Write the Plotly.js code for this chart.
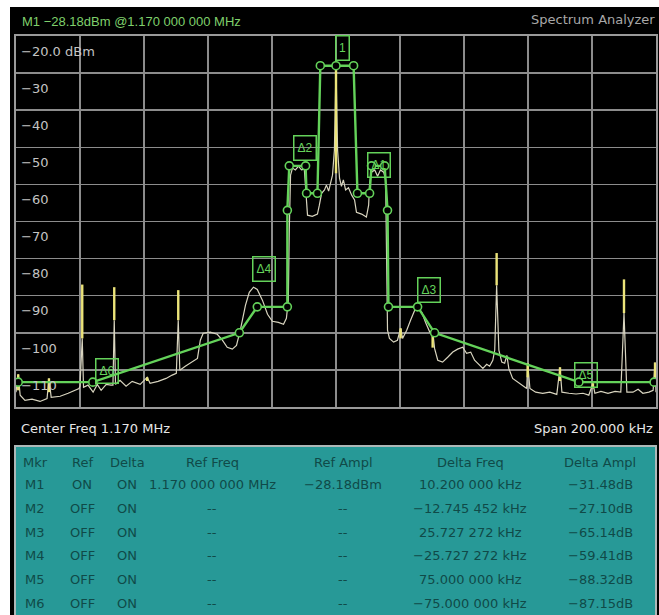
<!DOCTYPE html>
<html>
<head>
<meta charset="utf-8">
<script src="https://cdn.plot.ly/plotly-3.0.1.min.js"></script>
<style>html,body{margin:0;padding:0;background:#fff;}#chart{width:659px;height:615px;}</style>
</head>
<body>
<div id="chart"></div>
<script>
// ---- Data (frequency offset from 1.170 MHz centre, kHz; level dBm) ----
var specFreq = [-100,-99.3,-98.7,-97.2,-95.0,-92.5,-90.3,-89.7,-89.0,-86.2,-83.7,-81.5,-80.3,-80.0,-79.3,-78.9,-77.5,-75.9,-74.6,-73.4,-71.8,-70.3,-69.7,-69.3,-68.9,-67.5,-65.6,-63.7,-61.2,-59.0,-58.1,-55.6,-53.1,-51.2,-49.9,-49.3,-48.8,-47.1,-44.9,-43.3,-42.4,-41.5,-39.3,-37.1,-35.5,-34.0,-32.4,-31.1,-29.9,-28.3,-27.1,-25.8,-24.6,-23.0,-21.4,-19.9,-18.0,-16.4,-15.5,-14.9,-14.6,-14.2,-13.6,-12.7,-11.7,-10.8,-9.9,-9.2,-8.9,-7.4,-5.8,-5.2,-4.5,-3.6,-3.0,-2.3,-1.7,-1.1,-0.5,0,0.5,1.1,1.7,2.3,3.0,3.9,4.9,5.8,6.4,8.0,9.5,10.2,10.5,11.1,12.1,13.0,13.9,14.9,15.5,15.8,16.1,16.7,18.0,19.2,20.2,20.8,22.1,23.3,24.6,25.7,26.8,28.0,29.3,30.2,30.8,31.8,33.3,34.9,36.5,38.0,39.6,40.8,42.1,43.3,44.6,45.9,47.1,48.0,49.0,49.6,50.2,50.9,51.8,52.7,53.4,54.0,55.2,56.8,58.4,59.6,59.9,60.6,62.4,64.6,66.8,69.0,70.0,70.6,72.8,75.0,77.2,79.0,80.3,80.9,82.8,85.0,87.2,89.0,90.0,90.9,92.8,94.4,95.9,97.8,99.1,99.7,100];
var specLevel = [-116.0,-111.2,-116.8,-118.2,-117.9,-118.5,-117.7,-112.3,-117.4,-117.1,-116.3,-115.5,-115.0,-114.4,-101.5,-114.7,-114.1,-116.0,-113.9,-115.5,-113.9,-114.1,-114.1,-96.6,-113.9,-112.8,-114.4,-113.1,-113.9,-112.0,-113.6,-113.1,-112.3,-111.4,-110.9,-96.6,-110.1,-109.0,-107.9,-106.9,-102.0,-100.1,-99.8,-100.4,-102.0,-103.9,-104.4,-103.4,-99.3,-92.6,-89.1,-87.7,-88.3,-91.2,-95.0,-96.9,-97.2,-97.7,-96.1,-91.2,-72.3,-57.5,-55.6,-56.1,-55.1,-56.1,-55.9,-64.2,-68.3,-68.6,-68.0,-65.6,-62.4,-61.5,-60.2,-61.8,-59.4,-57.5,-50.8,-28.2,-50.8,-58.3,-60.5,-58.8,-61.5,-60.9,-62.9,-64.2,-67.5,-68.0,-68.8,-65.6,-59.7,-56.7,-56.1,-57.8,-56.1,-56.7,-58.8,-77.7,-99.3,-101.5,-102.5,-102.0,-98.8,-101.5,-99.3,-96.6,-93.9,-93.3,-94.5,-97.2,-99.8,-99.3,-104.2,-107.4,-107.9,-106.6,-105.2,-104.4,-103.9,-105.5,-105.2,-107.4,-108.5,-109.6,-108.5,-109.0,-107.4,-104.7,-87.2,-104.7,-107.9,-108.2,-106.1,-109.6,-112.3,-113.3,-114.1,-115.0,-108.2,-115.0,-116.0,-116.3,-116.0,-116.6,-109.3,-116.0,-116.3,-116.5,-116.3,-116.8,-113.6,-116.3,-115.8,-116.3,-115.8,-116.0,-94.7,-116.0,-116.0,-115.2,-116.3,-116.0,-115.5,-108.0,-116.0];

// max-hold (yellow) spike tops: frequency, level where the live trace stops, max level
var spikeFreq = [-99.3,-89.7,-79.3,-69.3,-59.0,-49.3,0,20.2,30.2,50.2,59.9,70.0,80.3,90.0,99.7];
var spikeLow  = [-115.5,-116.0,-101.5,-96.6,-113.0,-96.6,-57.0,-101.5,-104.0,-87.2,-112.0,-113.0,-115.0,-94.7,-112.0];
var spikeHigh = [-111.2,-112.3,-87.0,-87.7,-112.0,-88.5,-28.5,-98.8,-99.3,-78.5,-108.2,-109.3,-113.6,-85.6,-108.0];

// limit mask (green) vertices
var maskFreq  = [-99.3,-76,-30.2,-24.6,-15.2,-15.2,-14.6,-9.5,-9.2,-5.8,-4.9,0,5.5,6.7,10.5,11.1,15.2,16.1,16.4,25.5,30.8,75.9,99.4];
var maskLevel = [-113.3,-113.3,-100,-93,-93,-67,-55,-55,-62.4,-62.4,-28,-28,-28,-62.4,-62.4,-55,-55,-67,-93,-93,-100,-113.3,-113.3];

// marker boxes
var mkLabels = ["1","Δ1","Δ2","Δ3","Δ4","Δ5","Δ6"];
var mkFreq   = [2.0,13.3,-9.7,29.0,-22.4,78.1,-71.5];
var mkLevel  = [-23.2,-54.8,-50.1,-88.5,-82.7,-111.4,-110.4];

// y-axis labels (drawn inside plot)
var yLabelLevels = [-20,-30,-40,-50,-60,-70,-80,-90,-100,-110];
var yLabelText = ["-20.0 dBm","-30","-40","-50","-60","-70","-80","-90","-100","-110"];

// marker table
var tblHeader  = ["Mkr","Ref","Delta","Ref Freq","Ref Ampl","Delta Freq","Delta Ampl"];
var tblMkr     = ["M1","M2","M3","M4","M5","M6"];
var tblRef     = ["ON","OFF","OFF","OFF","OFF","OFF"];
var tblDelta   = ["ON","ON","ON","ON","ON","ON"];
var tblRefFreq = ["1.170 000 000 MHz","--","--","--","--","--"];
var tblRefAmpl = ["\u221228.18dBm","--","--","--","--","--"];
var tblDFreq   = ["10.200 000 kHz","\u221212.745 452 kHz","25.727 272 kHz","\u221225.727 272 kHz","75.000 000 kHz","\u221275.000 000 kHz"];
var tblDAmpl   = ["\u221231.48dB","\u221227.10dB","\u221265.14dB","\u221259.41dB","\u221288.32dB","\u221287.15dB"];

// ---- layout helpers (pixel -> paper) ----
var PL=16, PR=656, PT=36, PB=407;
function px(x){return (x-PL)/(PR-PL);}
function py(y){return (PB-y)/(PB-PT);}

var FONT = "Liberation Sans, Arial, sans-serif";
var WFONT = "DejaVu Sans, Verdana, sans-serif";
var GREEN = "#64d25a";

// yellow spikes as vertical segments
var yx=[], yy=[];
for (var i=0;i<spikeFreq.length;i++){ yx.push(spikeFreq[i],spikeFreq[i],null); yy.push(spikeLow[i],spikeHigh[i],null); }

var traces = [
  {x:specFreq, y:specLevel, type:"scatter", mode:"lines", line:{color:"#d8d4bf", width:1.2}, hoverinfo:"skip"},
  {x:yx, y:yy, type:"scatter", mode:"lines", line:{color:"#ece47a", width:2.4}, hoverinfo:"skip", connectgaps:false},
  {x:maskFreq, y:maskLevel, type:"scatter", mode:"lines+markers", line:{color:GREEN, width:2.4},
   marker:{symbol:"circle", size:8, color:"#000", line:{color:GREEN, width:1.6}}, hoverinfo:"skip"}
];

var ann = [];
// header texts
ann.push({xref:"paper",yref:"paper",x:px(20),y:py(21),xanchor:"left",yanchor:"middle",showarrow:false,
  text:"M1 \u221228.18dBm @1.170 000 000 MHz",font:{family:FONT,size:13,color:"#7fd06c"}});
ann.push({xref:"paper",yref:"paper",x:px(657),y:py(20),xanchor:"right",yanchor:"middle",showarrow:false,
  text:"Spectrum Analyzer",font:{family:WFONT,size:13,color:"#a8a8a8"}});
ann.push({xref:"paper",yref:"paper",x:px(19),y:py(428),xanchor:"left",yanchor:"middle",showarrow:false,
  text:"Center Freq 1.170 MHz",font:{family:WFONT,size:13,color:"#e6e6e6"}});
ann.push({xref:"paper",yref:"paper",x:px(655),y:py(428),xanchor:"right",yanchor:"middle",showarrow:false,
  text:"Span 200.000 kHz",font:{family:WFONT,size:13,color:"#e6e6e6"}});
// y labels
for (var k=0;k<yLabelLevels.length;k++){
  ann.push({xref:"paper",yref:"y",x:px(19),y:yLabelLevels[k]-4.1,xanchor:"left",yanchor:"middle",showarrow:false,
    text:yLabelText[k].replace("-","\u2212"),font:{family:WFONT,size:13,color:"#c4c4c4"}});
}
// marker boxes
for (var m=0;m<mkLabels.length;m++){
  ann.push({x:mkFreq[m],y:mkLevel[m],xref:"x",yref:"y",showarrow:false,text:mkLabels[m],
    font:{family:FONT,size:12,color:GREEN},bordercolor:GREEN,borderwidth:1.5,borderpad:2,
    width:(mkLabels[m].length>1?17:8),height:19,bgcolor:"rgba(0,0,0,0)"});
}
// table
var colX = [35,82,127,212,343,470,600];
var tColor = "#104a48";
for (var c=0;c<tblHeader.length;c++){
  ann.push({xref:"paper",yref:"paper",x:px(colX[c]),y:py(462),xanchor:"center",yanchor:"middle",showarrow:false,
    text:tblHeader[c],font:{family:WFONT,size:13,color:tColor}});
}
var cols = [tblMkr,tblRef,tblDelta,tblRefFreq,tblRefAmpl,tblDFreq,tblDAmpl];
for (var r=0;r<tblMkr.length;r++){
  var yy0 = 485 + r*23.6;
  for (var c2=0;c2<cols.length;c2++){
    ann.push({xref:"paper",yref:"paper",x:px(colX[c2]),y:py(yy0),xanchor:"center",yanchor:"middle",showarrow:false,
      text:cols[c2][r],font:{family:WFONT,size:13,color:tColor}});
  }
}

var shapes = [
  // white margins at left and top
  {type:"rect",xref:"paper",yref:"paper",x0:px(-5),x1:px(10),y0:py(620),y1:py(-5),fillcolor:"#fff",line:{width:0},layer:"below"},
  {type:"rect",xref:"paper",yref:"paper",x0:px(-5),x1:px(665),y0:py(7),y1:py(-5),fillcolor:"#fff",line:{width:0},layer:"below"},
  // table panel
  {type:"rect",xref:"paper",yref:"paper",x0:px(15),x1:px(656),y0:py(616),y1:py(446),fillcolor:"#279997",
   line:{color:"#aeb8b8",width:2},layer:"below"}
];

var layout = {
  width:659, height:615,
  margin:{l:PL, r:659-PR, t:PT, b:615-PB, pad:0},
  paper_bgcolor:"#000", plot_bgcolor:"#000",
  showlegend:false, hovermode:false,
  xaxis:{range:[-100,100], dtick:20, tick0:-100, showgrid:true, gridcolor:"#8c8c8c", gridwidth:1.5,
    zeroline:false, showline:true, mirror:true, linecolor:"#9a9a9a", linewidth:2, showticklabels:false, ticks:"", fixedrange:true},
  yaxis:{range:[-120,-20], dtick:10, tick0:-120, showgrid:true, gridcolor:"#8c8c8c", gridwidth:1.5,
    zeroline:false, showline:true, mirror:true, linecolor:"#9a9a9a", linewidth:2, showticklabels:false, ticks:"", fixedrange:true},
  annotations:ann, shapes:shapes
};

Plotly.newPlot("chart", traces, layout, {displayModeBar:false, staticPlot:true});
</script>
</body>
</html>
